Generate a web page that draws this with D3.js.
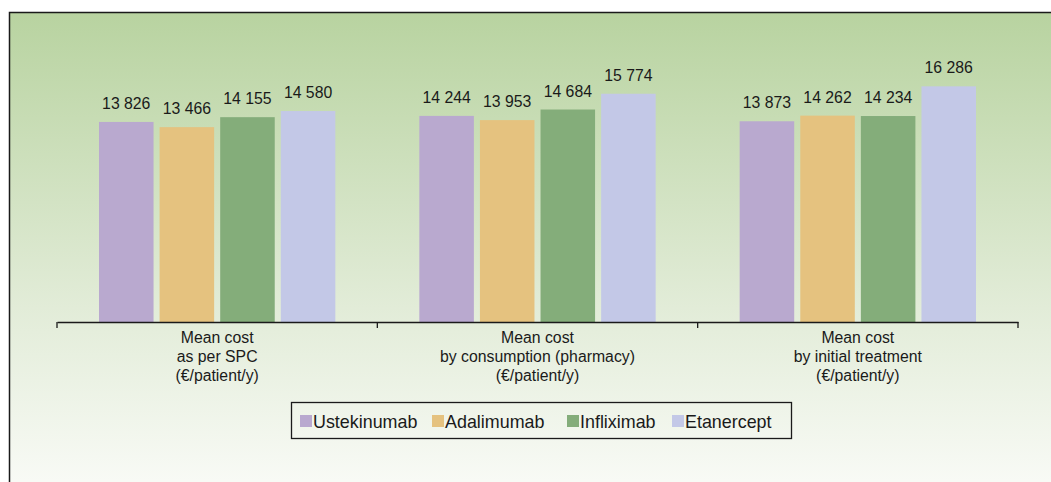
<!DOCTYPE html>
<html>
<head>
<meta charset="utf-8">
<script src="https://cdn.jsdelivr.net/npm/d3@7"></script>
<style>
  body { margin: 0; background: #fff; }
  text { font-family: "Liberation Sans", Arial, sans-serif; fill: #1a1a1a; }
</style>
</head>
<body>
<script>
// data
var categories = [
  ["Mean cost", "as per SPC", "(\u20ac/patient/y)"],
  ["Mean cost", "by consumption (pharmacy)", "(\u20ac/patient/y)"],
  ["Mean cost", "by initial treatment", "(\u20ac/patient/y)"]
];
var drugs = ["Ustekinumab", "Adalimumab", "Infliximab", "Etanercept"];
var ustekinumab = [13826, 14244, 13873];
var adalimumab = [13466, 13953, 14262];
var infliximab = [14155, 14684, 14234];
var etanercept = [14580, 15774, 16286];
var colors = ["#b9a9cf", "#e5c27f", "#84ad7a", "#c3c8e7"];

var series = [ustekinumab, adalimumab, infliximab, etanercept];

var W = 1051, H = 482;
var svg = d3.select("body").append("svg")
    .attr("width", W)
    .attr("height", H);

var grad = svg.append("defs").append("linearGradient")
    .attr("id", "bg")
    .attr("x1", 0).attr("y1", 0).attr("x2", 0).attr("y2", 1);
grad.append("stop").attr("offset", "0%").attr("stop-color", "#b8d3a0");
grad.append("stop").attr("offset", "60%").attr("stop-color", "#e2ecd8");
grad.append("stop").attr("offset", "100%").attr("stop-color", "#fbfcf9");

// frame
svg.append("rect")
    .attr("x", 9.5).attr("y", 12.5)
    .attr("width", W + 10).attr("height", H + 10)
    .attr("fill", "url(#bg)")
    .attr("stroke", "#1a1a1a")
    .attr("stroke-width", 1.5);

var axisY = 322;

var x0 = d3.scaleBand()
    .domain(d3.range(categories.length))
    .range([57, 1018])
    .paddingInner(0).paddingOuter(0);

var x1 = d3.scaleBand()
    .domain(d3.range(drugs.length))
    .range([42, x0.bandwidth() - 42])
    .paddingInner(0.1);

var y = d3.scaleLinear()
    .domain([0, 20000])
    .range([axisY, axisY - 0.01447 * 20000]);

var groups = svg.selectAll("g.cat")
    .data(categories)
  .enter().append("g")
    .attr("class", "cat")
    .attr("transform", function(d, i) { return "translate(" + x0(i) + ",0)"; });

groups.each(function(c, ci) {
    var g = d3.select(this);
    series.forEach(function(s, si) {
        g.append("rect")
            .attr("x", x1(si))
            .attr("y", y(s[ci]))
            .attr("width", x1.bandwidth())
            .attr("height", axisY - y(s[ci]))
            .attr("fill", colors[si]);
        g.append("text")
            .attr("x", x1(si) + x1.bandwidth() / 2)
            .attr("y", y(s[ci]) - 13)
            .attr("text-anchor", "middle")
            .style("font-size", "15.8px")
            .text(d3.format(",")(s[ci]).replace(",", " "));
    });
    c.forEach(function(line, li) {
        g.append("text")
            .attr("x", x0.bandwidth() / 2)
            .attr("y", 343 + li * 19)
            .attr("text-anchor", "middle")
            .style("font-size", "15.8px")
            .text(line);
    });
});

// axis
var xAxis = d3.axisBottom(x0)
    .tickValues([])
    .tickSizeOuter(0);
var ax = svg.append("g")
    .attr("transform", "translate(0," + axisY + ")")
    .call(xAxis);
ax.select(".domain").attr("stroke", "#1a1a1a").attr("stroke-width", 1.3);
ax.selectAll("line.sep")
    .data(d3.range(categories.length + 1))
  .enter().append("line")
    .attr("class", "sep")
    .attr("x1", function(d) { return d < categories.length ? x0(d) : x0.range()[1]; })
    .attr("x2", function(d) { return d < categories.length ? x0(d) : x0.range()[1]; })
    .attr("y1", 0).attr("y2", 6)
    .attr("stroke", "#1a1a1a")
    .attr("stroke-width", 1.3);

// legend
var legend = svg.append("g");
legend.append("rect")
    .attr("x", 291.5).attr("y", 402.5)
    .attr("width", 500).attr("height", 36)
    .attr("fill", "none")
    .attr("stroke", "#1a1a1a")
    .attr("stroke-width", 1.3);
var legX = [300, 432, 567, 672];
drugs.forEach(function(d, i) {
    legend.append("rect")
        .attr("x", legX[i]).attr("y", 415)
        .attr("width", 12).attr("height", 12)
        .attr("fill", colors[i]);
    legend.append("text")
        .attr("x", legX[i] + 13).attr("y", 427.5)
        .style("font-size", "17.9px")
        .text(d);
});
</script>
</body>
</html>
